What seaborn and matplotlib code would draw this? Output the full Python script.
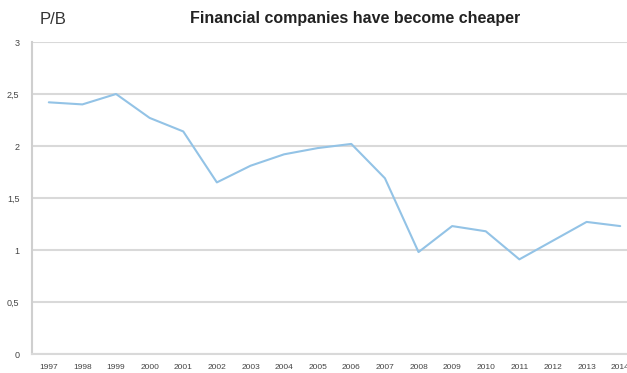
import matplotlib
matplotlib.use("Agg")
import matplotlib.pyplot as plt
import seaborn as sns
import pandas as pd

years = ["1997", "1998", "1999", "2000", "2001", "2002", "2003", "2004", "2005",
         "2006", "2007", "2008", "2009", "2010", "2011", "2012", "2013", "2014"]
pb = [2.42, 2.40, 2.50, 2.27, 2.14, 1.65, 1.81, 1.92, 1.98,
      2.02, 1.69, 0.98, 1.23, 1.18, 0.91, 1.09, 1.27, 1.23]
yticks = [0, 0.5, 1, 1.5, 2, 2.5, 3]
ytick_labels = ["0", "0,5", "1", "1,5", "2", "2,5", "3"]

sns.set_theme(style="white")
plt.rcParams["font.family"] = ["Liberation Sans", "DejaVu Sans"]

df = pd.DataFrame({"year": years, "pb": pb, "pos": range(len(years))})

fig = plt.figure(figsize=(6.27, 3.73), dpi=100)
ax = fig.add_axes([32 / 627, 1 - 354 / 373, 605 / 627, (354 - 42) / 373])

sns.lineplot(data=df, x="pos", y="pb", ax=ax, color="#93c3e6", linewidth=1.5)

ax.set_xlim(-0.5, len(years) - 0.5)
ax.set_ylim(0, 3)
ax.set_xticks(range(len(years)))
ax.set_xticklabels(years, fontsize=6, color="#444444")
ax.set_yticks(yticks)
ax.set_yticklabels(ytick_labels, fontsize=6.5, color="#444444")
ax.tick_params(axis="both", length=0)
ax.tick_params(axis="x", pad=7)
ax.tick_params(axis="y", pad=9)
ax.set_xlabel("")
ax.set_ylabel("")

ax.grid(axis="y", color="#d9d9d9", linewidth=1.5)
ax.set_axisbelow(True)
for side in ["top", "right"]:
    ax.spines[side].set_visible(False)
ax.spines["left"].set_color("#cfcfcf")
ax.spines["left"].set_linewidth(1.5)
ax.spines["bottom"].set_color("#d9d9d9")
ax.spines["bottom"].set_linewidth(1.5)

fig.text(355 / 627, 1 - 18 / 373, "Financial companies have become cheaper",
         ha="center", va="center", fontsize=11.5, fontweight="bold", color="#222222")
fig.text(40 / 627, 1 - 20 / 373, "P/B", ha="left", va="center",
         fontsize=12, color="#333333")

fig.savefig("out.png", dpi=100)
